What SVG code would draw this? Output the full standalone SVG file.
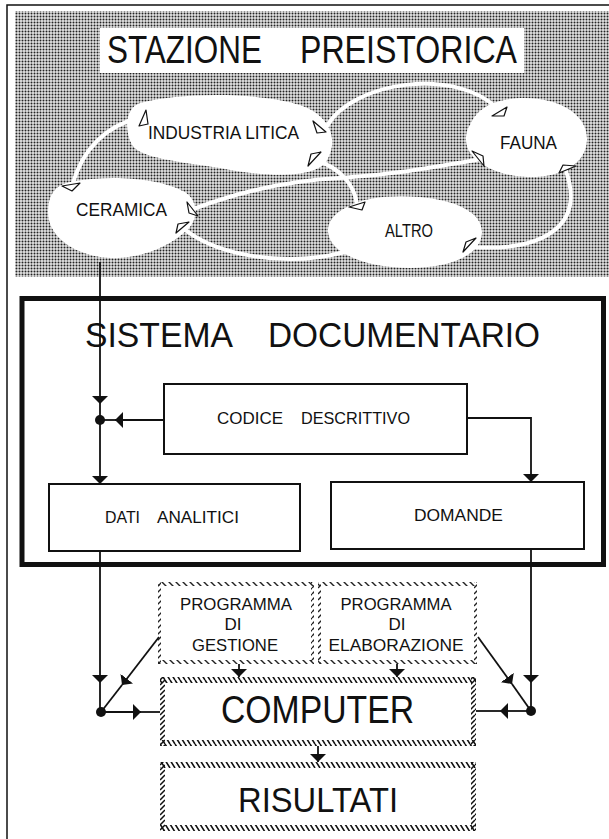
<svg xmlns="http://www.w3.org/2000/svg" width="609" height="839" viewBox="0 0 609 839">
<style>
.t{font-family:"Liberation Sans",Arial,sans-serif;fill:#111}
.box{fill:#fff;stroke:#111;stroke-width:2}
.ln{fill:none;stroke:#111;stroke-width:1.8}
.wc{fill:none;stroke:#fff;stroke-width:4;stroke-linecap:round}
.blob{fill:#fff}
.tri{fill:#fff;stroke:#111;stroke-width:1.2;stroke-linejoin:round}
</style>
<defs>
<pattern id="dots" width="3" height="3" patternUnits="userSpaceOnUse"><rect width="3" height="3" fill="#e4e4e4"/><circle cx="1.5" cy="1.5" r="1" fill="#222"/></pattern>
<pattern id="hb" width="5" height="8" patternUnits="userSpaceOnUse"><path d="M0,0 L5,8 M-5,0 L0,8 M5,0 L10,8" stroke="#111" stroke-width="1.6"/></pattern>
<pattern id="hs" width="5" height="5" patternUnits="userSpaceOnUse"><path d="M0,5 L5,0 M-5,5 L0,0 M5,5 L10,0" stroke="#111" stroke-width="1.5"/></pattern>
<pattern id="pb" width="7" height="7" patternUnits="userSpaceOnUse"><path d="M0,0 L7,7 M-7,0 L0,7 M7,0 L14,7" stroke="#222" stroke-width="1.4"/></pattern>
<pattern id="ps" width="6" height="6" patternUnits="userSpaceOnUse"><path d="M0,6 L6,0 M-6,6 L0,0 M6,6 L12,0" stroke="#222" stroke-width="1.4"/></pattern>
<marker id="ah" viewBox="0 -8 8 16" refX="8" refY="0" markerWidth="8" markerHeight="16" markerUnits="userSpaceOnUse" orient="auto"><path d="M0,-8 L8,0 L0,8 Z" fill="#111"/></marker>
</defs>
<rect width="609" height="839" fill="#fff"/>
<path d="M7,839 V5 H609" fill="none" stroke="#111" stroke-width="1.5"/>
<rect x="15" y="11" width="594" height="266" fill="url(#dots)"/>

<g id="connectors-top">
<path class="wc" d="M72,186 C 82,150 105,126 141,117"/>
<path class="wc" d="M327,126 C 352,82 455,66 498,109"/>
<path class="wc" d="M316,160 C 340,168 355,185 357,205"/>
<path class="wc" d="M196,208 C 250,188 300,180 340,178 C 400,174 440,166 476,160"/>
<path class="wc" d="M183,228 C 215,255 285,268 345,252"/>
<path class="wc" d="M566,171 C 585,225 545,252 470,247"/>
</g>

<g id="title">
<rect x="100" y="28" width="424" height="45" fill="#fff"/>
<text class="t" font-size="39" y="63"><tspan x="107" textLength="155" lengthAdjust="spacingAndGlyphs">STAZIONE</tspan><tspan x="300" textLength="217" lengthAdjust="spacingAndGlyphs">PREISTORICA</tspan></text>
</g>

<g id="industria-litica">
<path class="blob" d="M140,103 C 180,92 260,92 300,105 C 330,115 340,140 326,162 C 312,180 260,176 220,168 C 180,162 140,158 132,145 C 124,130 125,108 140,103 Z"/>
<text class="t" font-size="19" x="148" y="139" textLength="151" lengthAdjust="spacingAndGlyphs">INDUSTRIA  LITICA</text>
</g>
<g id="fauna">
<path class="blob" d="M470,125 C 478,105 500,98 525,98 C 560,98 588,115 587,140 C 586,165 560,178 527,177 C 495,176 466,160 466,140 C 466,133 467,129 470,125 Z"/>
<text class="t" font-size="18" x="500" y="149" textLength="57" lengthAdjust="spacingAndGlyphs">FAUNA</text>
</g>
<g id="ceramica">
<path class="blob" d="M70,182 C 110,174 160,178 185,192 C 200,202 198,222 185,232 C 165,250 130,262 100,257 C 70,252 48,235 48,212 C 48,195 55,185 70,182 Z"/>
<text class="t" font-size="19" x="76" y="216" textLength="91" lengthAdjust="spacingAndGlyphs">CERAMICA</text>
</g>
<g id="altro">
<path class="blob" d="M345,208 C 365,196 395,195 420,197 C 455,200 482,212 482,232 C 482,255 450,268 410,268 C 370,268 330,255 328,232 C 327,222 335,213 345,208 Z"/>
<text class="t" font-size="19" x="385" y="237" textLength="48" lengthAdjust="spacingAndGlyphs">ALTRO</text>
</g>

<g id="arrowheads-top">
<polygon class="tri" points="146,110 139,126 148,124"/>
<polygon class="tri" points="62,186 80,183 72,191"/>
<polygon class="tri" points="313,121 317,133 326,132"/>
<polygon class="tri" points="321,152 308,166 311,154"/>
<polygon class="tri" points="187,202 189,213 198,216"/>
<polygon class="tri" points="189,222 176,233 178,224"/>
<polygon class="tri" points="507,107 492,116 504,116"/>
<polygon class="tri" points="472,151 483,156 484,166"/>
<polygon class="tri" points="576,166 559,173 563,165"/>
<polygon class="tri" points="365,202 349,207 362,210"/>
<polygon class="tri" points="476,238 463,252 466,242"/>
</g>

<g id="sistema-documentario">
<rect x="22" y="298.5" width="581.5" height="266" fill="none" stroke="#111" stroke-width="5"/>
<text class="t" font-size="35" y="347"><tspan x="85" textLength="148" lengthAdjust="spacingAndGlyphs">SISTEMA</tspan><tspan x="268" textLength="272" lengthAdjust="spacingAndGlyphs">DOCUMENTARIO</tspan></text>
</g>
<g id="codice-descrittivo">
<rect class="box" x="164" y="384" width="303" height="70"/>
<text class="t" font-size="17" y="424"><tspan x="217" textLength="66" lengthAdjust="spacingAndGlyphs">CODICE</tspan><tspan x="301" textLength="109" lengthAdjust="spacingAndGlyphs">DESCRITTIVO</tspan></text>
</g>
<g id="dati-analitici">
<rect class="box" x="49" y="484" width="251" height="67"/>
<text class="t" font-size="17" y="523"><tspan x="105" textLength="35" lengthAdjust="spacingAndGlyphs">DATI</tspan><tspan x="157" textLength="82" lengthAdjust="spacingAndGlyphs">ANALITICI</tspan></text>
</g>
<g id="domande">
<rect class="box" x="331" y="482" width="253" height="67"/>
<text class="t" font-size="17" x="414" y="521" textLength="89" lengthAdjust="spacingAndGlyphs">DOMANDE</text>
</g>

<g id="programma-gestione">
<rect x="158" y="582" width="156" height="4" fill="url(#pb)"/>
<rect x="158" y="660" width="156" height="4" fill="url(#pb)"/>
<rect x="158" y="582" width="3" height="82" fill="url(#ps)"/>
<rect x="311" y="582" width="3" height="82" fill="url(#ps)"/>
<text class="t" font-size="17" text-anchor="middle"><tspan x="236" y="610" textLength="112" lengthAdjust="spacingAndGlyphs">PROGRAMMA</tspan><tspan x="233" y="630">DI</tspan><tspan x="235" y="651" textLength="86" lengthAdjust="spacingAndGlyphs">GESTIONE</tspan></text>
</g>
<g id="programma-elaborazione">
<rect x="318" y="582" width="159" height="4" fill="url(#pb)"/>
<rect x="318" y="660" width="159" height="4" fill="url(#pb)"/>
<rect x="318" y="582" width="3" height="82" fill="url(#ps)"/>
<rect x="474" y="582" width="3" height="82" fill="url(#ps)"/>
<text class="t" font-size="17" text-anchor="middle"><tspan x="396" y="610" textLength="111" lengthAdjust="spacingAndGlyphs">PROGRAMMA</tspan><tspan x="397" y="630">DI</tspan><tspan x="396" y="651" textLength="135" lengthAdjust="spacingAndGlyphs">ELABORAZIONE</tspan></text>
</g>
<g id="computer">
<rect x="160" y="677" width="316" height="6" fill="url(#hb)"/>
<rect x="160" y="740" width="316" height="6" fill="url(#hb)"/>
<rect x="160" y="677" width="5" height="69" fill="url(#hs)"/>
<rect x="471" y="677" width="5" height="69" fill="url(#hs)"/>
<text class="t" font-size="39" x="221" y="723" textLength="193" lengthAdjust="spacingAndGlyphs">COMPUTER</text>
</g>
<g id="risultati">
<rect x="160" y="762" width="316" height="6" fill="url(#hb)"/>
<rect x="160" y="825" width="316" height="6" fill="url(#hb)"/>
<rect x="160" y="762" width="5" height="69" fill="url(#hs)"/>
<rect x="471" y="762" width="5" height="69" fill="url(#hs)"/>
<text class="t" font-size="35" x="238" y="812" textLength="160" lengthAdjust="spacingAndGlyphs">RISULTATI</text>
</g>

<g id="connectors">
<path class="ln" d="M100,262 V404" marker-end="url(#ah)"/>
<path class="ln" d="M100,404 V484" marker-end="url(#ah)"/>
<path class="ln" d="M164,420 H115" marker-end="url(#ah)"/>
<path class="ln" d="M115,420 H100"/>
<circle cx="100" cy="420" r="5" fill="#111"/>
<path class="ln" d="M467,418 H531 V482" marker-end="url(#ah)"/>
<path class="ln" d="M100,551 V683" marker-end="url(#ah)"/>
<path class="ln" d="M100,683 V712"/>
<path class="ln" d="M159,637 L122,685" marker-end="url(#ah)"/>
<path class="ln" d="M122,685 L101,712"/>
<path class="ln" d="M101,712 H141" marker-end="url(#ah)"/>
<path class="ln" d="M141,712 H160"/>
<circle cx="101" cy="712" r="5" fill="#111"/>
<path class="ln" d="M531,549 V683" marker-end="url(#ah)"/>
<path class="ln" d="M531,683 V711"/>
<path class="ln" d="M478,637 L512,684" marker-end="url(#ah)"/>
<path class="ln" d="M512,684 L531,711"/>
<path class="ln" d="M531,711 H500" marker-end="url(#ah)"/>
<path class="ln" d="M500,711 H476"/>
<circle cx="531" cy="711" r="5" fill="#111"/>
<path class="ln" d="M239,664 V677" marker-end="url(#ah)"/>
<path class="ln" d="M397,664 V677" marker-end="url(#ah)"/>
<path class="ln" d="M318,746 V762" marker-end="url(#ah)"/>
</g>
</svg>
